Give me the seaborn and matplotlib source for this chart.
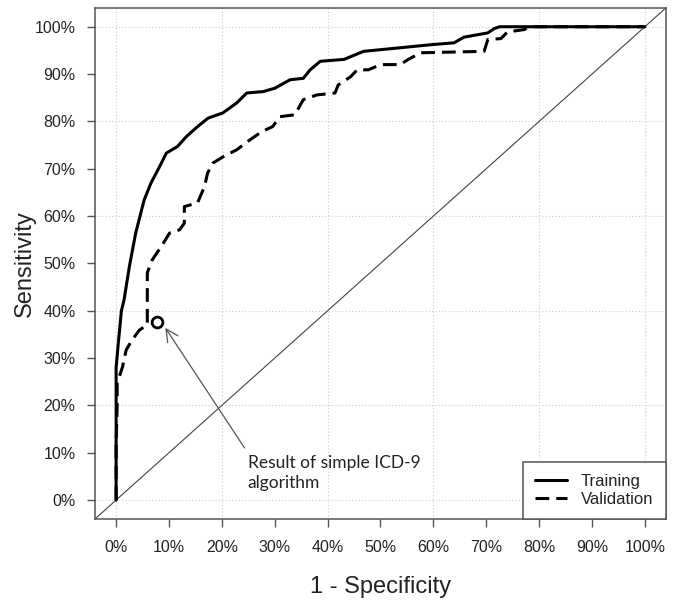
import numpy as np
import pandas as pd
import matplotlib
matplotlib.use("Agg")
import matplotlib.pyplot as plt
import seaborn as sns
from matplotlib.ticker import PercentFormatter

# === DATA
train_fpr = [0.0, 0.0, 0.004, 0.010, 0.015, 0.025, 0.037, 0.053, 0.066, 0.082,
             0.095, 0.116, 0.133, 0.154, 0.174, 0.202, 0.228, 0.247, 0.278, 0.300,
             0.329, 0.354, 0.367, 0.386, 0.431, 0.468, 0.532, 0.595, 0.639, 0.658,
             0.703, 0.715, 0.725, 1.0]
train_tpr = [0.0, 0.280, 0.330, 0.400, 0.423, 0.493, 0.564, 0.634, 0.670, 0.704,
             0.733, 0.747, 0.768, 0.789, 0.807, 0.818, 0.839, 0.860, 0.863, 0.870,
             0.888, 0.891, 0.909, 0.927, 0.931, 0.948, 0.955, 0.962, 0.966, 0.978,
             0.987, 0.996, 1.0, 1.0]

val_fpr = [0.0, 0.0, 0.002, 0.002, 0.012, 0.019, 0.030, 0.044, 0.053, 0.059,
           0.059, 0.068, 0.085, 0.101, 0.120, 0.129, 0.129, 0.154, 0.167, 0.173,
           0.183, 0.202, 0.228, 0.253, 0.275, 0.296, 0.310, 0.338, 0.354, 0.380,
           0.414, 0.420, 0.443, 0.456, 0.477, 0.500, 0.538, 0.551, 0.576, 0.696,
           0.703, 0.728, 0.740, 0.772, 0.780, 1.0]
val_tpr = [0.0, 0.120, 0.200, 0.247, 0.281, 0.317, 0.338, 0.359, 0.366, 0.370,
           0.480, 0.507, 0.535, 0.564, 0.571, 0.585, 0.620, 0.628, 0.662, 0.691,
           0.712, 0.725, 0.740, 0.761, 0.778, 0.789, 0.810, 0.814, 0.846, 0.856,
           0.860, 0.877, 0.894, 0.909, 0.909, 0.920, 0.920, 0.930, 0.945, 0.948,
           0.973, 0.975, 0.989, 0.994, 1.0, 1.0]

icd9_fpr = [0.077]
icd9_tpr = [0.377]
icd9_label = "Result of simple ICD-9\nalgorithm"

tick_vals = np.arange(0, 1.01, 0.1)
grid_vals = np.arange(0, 1.01, 0.2)

# === STYLE
sns.set_style("white")
plt.rcParams["font.family"] = ["Liberation Sans", "DejaVu Sans"]

fig = plt.figure(figsize=(6.75, 6), dpi=100)
ax = fig.add_axes([0.1407, 0.135, 0.846, 0.852])

frame_col = "#555555"

for v in grid_vals:
    ax.axvline(v, color="#cccccc", lw=0.8, ls=(0, (1, 2)), zorder=0)
    ax.axhline(v, color="#cccccc", lw=0.8, ls=(0, (1, 2)), zorder=0)

ax.axline((0, 0), (1, 1), color="#444444", lw=0.8, zorder=1)

sns.lineplot(x=train_fpr, y=train_tpr, sort=False, estimator=None, ax=ax,
             color="black", lw=2.2, label="Training")
sns.lineplot(x=val_fpr, y=val_tpr, sort=False, estimator=None, ax=ax,
             color="black", lw=2.2, label="Validation")
ax.lines[-1].set_linestyle((0, (4.5, 2.3)))

sns.scatterplot(x=icd9_fpr, y=icd9_tpr, ax=ax, s=60, marker="o",
                facecolor="white", edgecolor="black", linewidth=2, zorder=5)

# arrow from the label up to the ICD-9 point
ax.annotate("", xy=(icd9_fpr[0] + 0.016, icd9_tpr[0] - 0.013), xytext=(0.243, 0.11),
            arrowprops=dict(arrowstyle="->", color="#555555", lw=0.9,
                            mutation_scale=22, shrinkA=0, shrinkB=0))
ax.text(0.249, 0.057, icd9_label, fontsize=12.5, family=["Lato", "DejaVu Sans"],
        color="#222222", ha="left", va="center", linespacing=1.35)

ax.set_xlim(-0.04, 1.04)
ax.set_ylim(-0.04, 1.04)
ax.set_xticks(tick_vals)
ax.set_yticks(tick_vals)
ax.xaxis.set_major_formatter(PercentFormatter(1.0, decimals=0))
ax.yaxis.set_major_formatter(PercentFormatter(1.0, decimals=0))
ax.tick_params(axis="both", direction="out", length=6, width=1, color=frame_col,
               labelsize=11.5, labelcolor="#222222")
ax.tick_params(axis="x", pad=9)
ax.tick_params(axis="y", pad=8)
ax.tick_params(bottom=True, left=True)

ax.set_xlabel("1 - Specificity", fontsize=17, labelpad=15, color="#222222")
ax.set_ylabel("Sensitivity", fontsize=17, labelpad=-1, color="#222222")

for sp in ax.spines.values():
    sp.set_color(frame_col)
    sp.set_linewidth(1.1)

leg = ax.legend(loc="lower right", bbox_to_anchor=(1, 0), borderaxespad=0,
                fancybox=False, fontsize=12, handlelength=1.9, framealpha=1,
                borderpad=0.75, labelspacing=0.15, handletextpad=0.85)
leg.get_frame().set_edgecolor(frame_col)
leg.get_frame().set_linewidth(1.1)
for t in leg.get_texts():
    t.set_color("#222222")

fig.savefig("out.png", dpi=100)
